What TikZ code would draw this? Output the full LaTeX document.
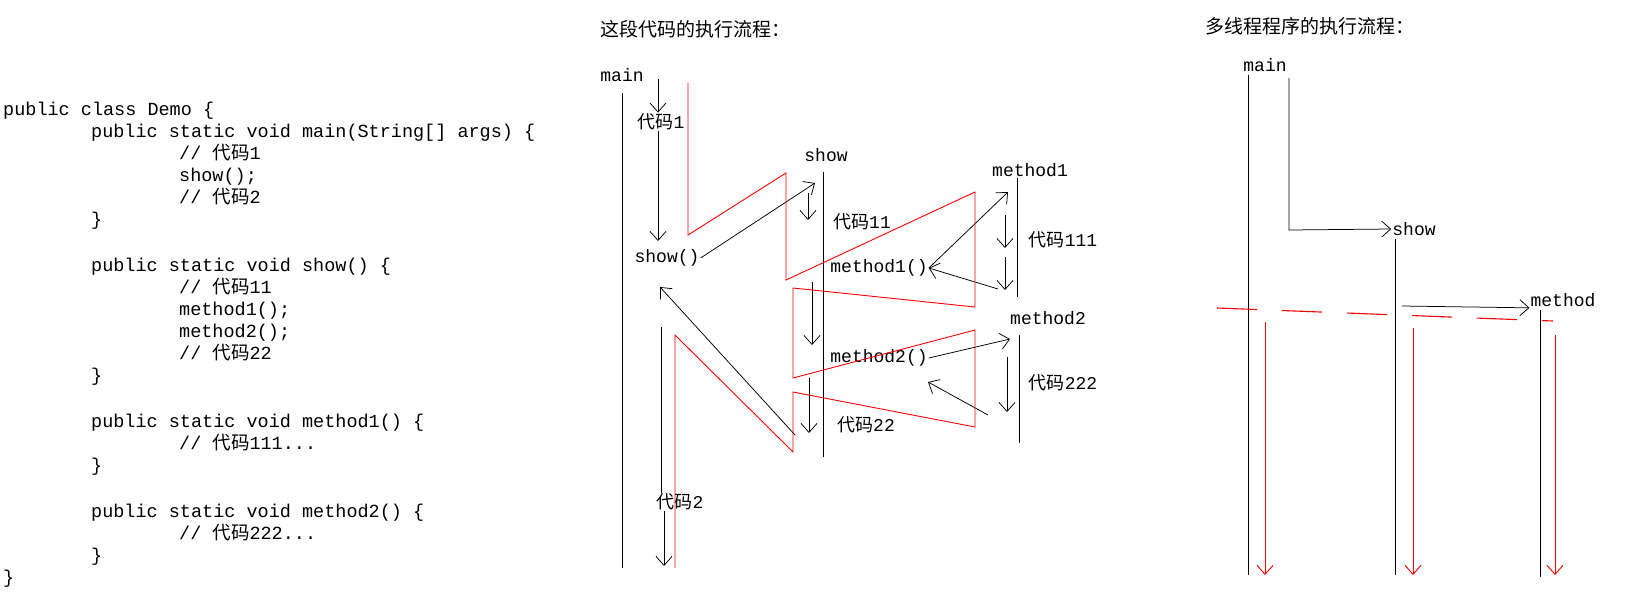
\documentclass[tikz,border=0pt]{standalone}
\usepackage{fontspec}
\setmonofont{Liberation Mono}
\newfontfamily\cjk{Noto Sans CJK SC}
\usetikzlibrary{arrows.meta,positioning}

\newcommand{\dm}{{\cjk 代码}}

\begin{document}
\begin{tikzpicture}[x=1pt,y=-1pt,
  lbl/.style={font=\ttfamily\fontsize{18}{22}\selectfont,inner sep=1pt},
  code/.style={font=\ttfamily\fontsize{18.5}{22}\selectfont,inner sep=1pt},
  ttl/.style={font=\cjk\fontsize{19}{22}\selectfont,inner sep=0pt,anchor=west},
  flow/.style={black,line width=0.75pt},
  arr/.style={flow,-{Straight Barb[length=9pt,width=16pt]}},
  run/.style={red,line width=0.9pt},
  rarr/.style={run,-{Straight Barb[length=9pt,width=16pt]}}
]
\useasboundingbox (0,0) rectangle (1627,598);

% ---- Code listing --------------------------------------------
\node[code,anchor=north west,align=left] (code) at (2,101) {%
public class Demo \{\\
\hspace*{88pt}public static void main(String[] args) \{\\
\hspace*{176pt}// \dm1\\
\hspace*{176pt}show();\\
\hspace*{176pt}// \dm2\\
\hspace*{88pt}\}\\[24pt]
\hspace*{88pt}public static void show() \{\\
\hspace*{176pt}// \dm11\\
\hspace*{176pt}method1();\\
\hspace*{176pt}method2();\\
\hspace*{176pt}// \dm22\\
\hspace*{88pt}\}\\[24pt]
\hspace*{88pt}public static void method1() \{\\
\hspace*{176pt}// \dm111...\\
\hspace*{88pt}\}\\[24pt]
\hspace*{88pt}public static void method2() \{\\
\hspace*{176pt}// \dm222...\\
\hspace*{88pt}\}\\
\}};

% ---- Single thread flow ---------------------------------------
\node[ttl] (t1) at (600,29) {这段代码的执行流程：};
\node[lbl] (main) at (622,75) {main};
\node[lbl] (c1) at (661,122) {\dm1};
\node[lbl] (showc) at (667,258) {show()};
\node[lbl] (show) at (826,155) {show};
\node[lbl] (c11) at (862,222) {\dm11};
\node[lbl] (m1c) at (879,268) {method1()};
\node[lbl] (m1) at (1030,170) {method1};
\node[lbl] (c111) at (1063,240) {\dm111};
\node[lbl] (m2) at (1048,318) {method2};
\node[lbl] (m2c) at (879,358) {method2()};
\node[lbl] (c222) at (1063,383) {\dm222};
\node[lbl] (c22) at (866,425) {\dm22};
\node[lbl] (c2) at (680,502) {\dm2};

% life lines
\draw[flow] (622,93) -- (622,568);
\draw[flow] (823,172) -- (823,457);
\draw[flow] (1017,178) -- (1017,297);
\draw[flow] (1019,335) -- (1019,443);

% calls and returns
\draw[arr] (658,79) -- (c1.north -| 658,0);
\draw[arr] (c1.south -| 658,0) -- (658,241);
\draw[arr] (showc.east) -- (815,183);
\draw[arr] (808,193) -- (808,220);
\draw[arr] (m1c.east) -- (1008,192);
\draw[arr] (1005,215) -- (1005,248);
\draw[arr] (1005,257) -- (1005,290);
\draw[arr] (998,289) -- (m1c.east);
\draw[arr] (812,282) -- (812,345);
\draw[arr] (m2c.east) -- (1010,339);
\draw[arr] (1007,357) -- (1007,412);
\draw[arr] (988,415) -- (928,382);
\draw[arr] (809,378) -- (809,433);
\draw[arr] (795,435) -- (660,287);
\draw[flow] (661,327) -- (c2.north -| 661,0);
\draw[arr] (c2.south -| 664,0) -- (664,566);

% execution path
\draw[run] (688,83) -- (688,235) -- (786,173) -- (786,280) -- (975,192)
  -- (975,307) -- (793,288) -- (793,378) -- (975,330) -- (975,427)
  -- (793,392) -- (793,452) -- (675,335) -- (675,568);

% ---- Multi thread flow ----------------------------------------
\node[ttl] (t2) at (1205,26) {多线程程序的执行流程：};
\node[lbl] (tmain) at (1265,65) {main};
\node[lbl] (tshow) at (1414,229) {show};
\node[lbl] (tmeth) at (1563,300) {method};

\draw[flow] (1248,75) -- (1248,575);
\draw[flow] (1395,239) -- (1395,575);
\draw[flow] (1540,310) -- (1540,577);
\draw[arr] (1289,78) -- (1289,230) -- (tshow.west);
\draw[arr] (1402,306) -- (tmeth.south west);

\draw[run,line width=1.1pt,dash pattern=on 40pt off 25pt] (1217,308) -- (1553,321);
\draw[rarr] (1265,322) -- (1265,575);
\draw[rarr] (1413,328) -- (1413,575);
\draw[rarr] (1555,335) -- (1555,575);

\end{tikzpicture}
\end{document}
